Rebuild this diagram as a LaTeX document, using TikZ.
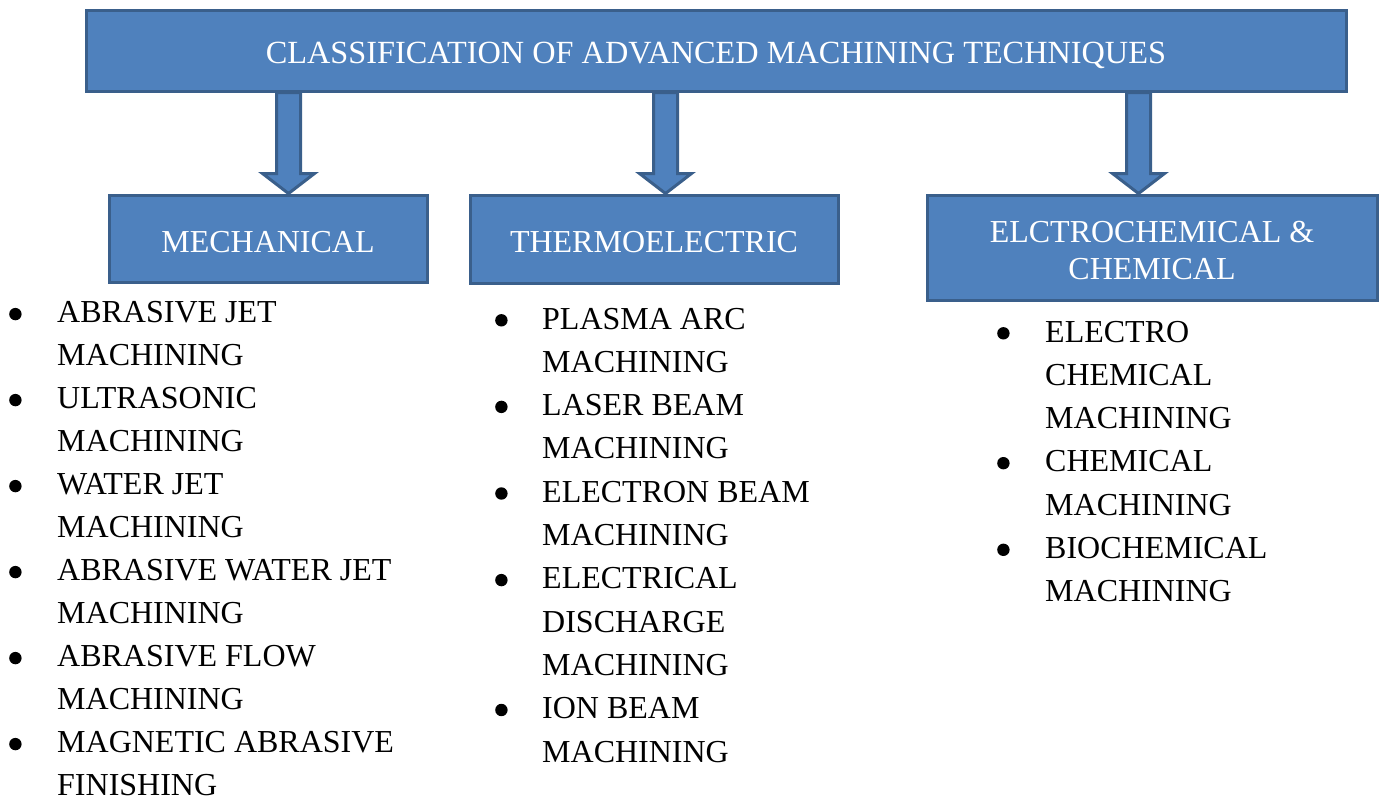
\documentclass[tikz,border=0pt]{standalone}
\usepackage{fontspec}
\setmainfont{Liberation Serif}
\usetikzlibrary{calc,backgrounds}
\definecolor{boxfill}{HTML}{4F81BD}
\definecolor{boxline}{HTML}{3A5F8B}
\newcommand\bul{\raisebox{2.5pt}{\tikz\fill[black] (0pt,0pt) circle (6.2pt);}}
\tikzset{
  catbox/.style={draw=boxline, fill=boxfill, line width=3pt, text=white,
    font=\fontsize{32}{37}\selectfont, inner sep=0pt, align=center},
  blockarr/.style={draw=boxline, fill=boxfill, line width=3pt, line join=miter},
  listtext/.style={anchor=base west, inner sep=0pt, font=\fontsize{32}{43.3}\selectfont}
}
\newcommand\blockarrow[3]{% #1 from node, #2 to node, #3 x position
  \draw[blockarr] ({#3-12},0 |- #1.south) -- ($({#3-12},0 |- #2.north)+(0,-20)$)
    -- ($({#3-26},0 |- #2.north)+(0,-20)$) -- (#3,0 |- #2.north)
    -- ($({#3+26},0 |- #2.north)+(0,-20)$) -- ($({#3+12},0 |- #2.north)+(0,-20)$)
    -- ({#3+12},0 |- #1.south) -- cycle;}
\begin{document}
\begin{tikzpicture}[x=1pt,y=-1pt]
\useasboundingbox (0,0) rectangle (1384,803);
\node[catbox, font=\fontsize{32.3}{37}\selectfont, text height=31.5pt,
  minimum width=1260pt, minimum height=81pt] (top) at (716,50.5)
  {CLASSIFICATION OF ADVANCED MACHINING TECHNIQUES};
\node[catbox, text height=27.5pt, minimum width=318pt, minimum height=87pt] (mech) at (268,238.5) {MECHANICAL};
\node[catbox, text height=27.5pt, minimum width=368pt, minimum height=88pt] (thermo) at (654,239) {THERMOELECTRIC};
\node[catbox, minimum width=450pt, minimum height=105pt] (chem) at (1152,247.5)
  {\rule{0pt}{28pt}ELCTROCHEMICAL \&\\CHEMICAL};
\begin{scope}[on background layer]
  \blockarrow{top}{mech}{288.5}
  \blockarrow{top}{thermo}{665.5}
  \blockarrow{top}{chem}{1138.5}
\end{scope}
\node[listtext, font=\fontsize{32}{43.0}\selectfont] (mechlist) at (9,322.8) {\begin{tabular}[t]{@{}p{48pt}@{}l@{}}
\bul&ABRASIVE JET\\
 &MACHINING\\
\bul&ULTRASONIC\\
 &MACHINING\\
\bul&WATER JET\\
 &MACHINING\\
\bul&ABRASIVE WATER JET\\
 &MACHINING\\
\bul&ABRASIVE FLOW\\
 &MACHINING\\
\bul&MAGNETIC ABRASIVE\\
 &FINISHING
\end{tabular}};
\node[listtext] (thermolist) at (495,329) {\begin{tabular}[t]{@{}p{47pt}@{}l@{}}
\bul&PLASMA ARC\\
 &MACHINING\\
\bul&LASER BEAM\\
 &MACHINING\\
\bul&ELECTRON BEAM\\
 &MACHINING\\
\bul&ELECTRICAL\\
 &DISCHARGE\\
 &MACHINING\\
\bul&ION BEAM\\
 &MACHINING
\end{tabular}};
\node[listtext] (chemlist) at (997,342) {\begin{tabular}[t]{@{}p{48pt}@{}l@{}}
\bul&ELECTRO\\
 &CHEMICAL\\
 &MACHINING\\
\bul&CHEMICAL\\
 &MACHINING\\
\bul&BIOCHEMICAL\\
 &MACHINING
\end{tabular}};
\end{tikzpicture}
\end{document}
